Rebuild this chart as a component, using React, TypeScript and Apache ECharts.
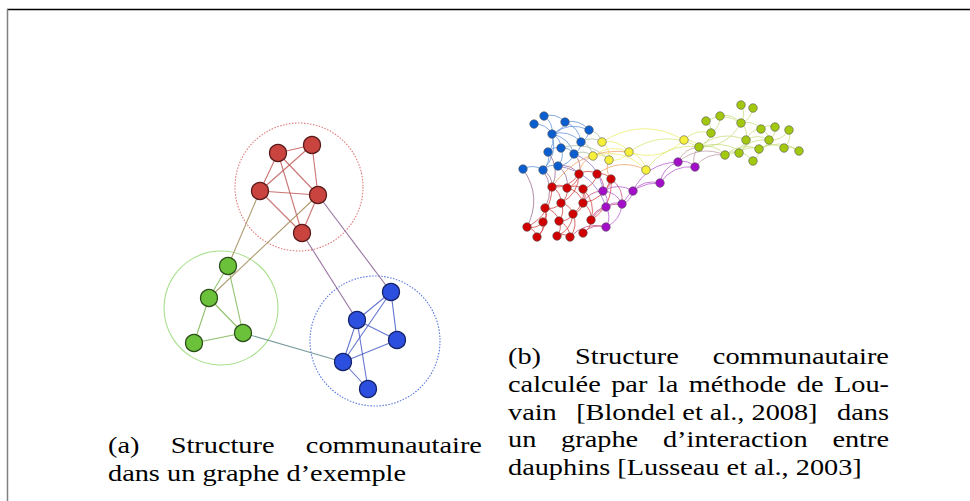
import React, { useEffect, useRef } from 'react';
import * as echarts from 'echarts';

const W = 970;
const H = 501;

// ---------- (a) example graph ----------
const aNodeNames = ['R1', 'R2', 'R3', 'R4', 'R5', 'G1', 'G2', 'G3', 'G4', 'B1', 'B2', 'B3', 'B4', 'B5'];
const aNodeX = [278, 312, 260, 318, 302, 228, 209, 243, 194, 391, 357, 397, 343, 368];
const aNodeY = [153, 145, 191, 195, 233, 266, 298, 333, 343, 292, 320, 340, 362, 389];
const aNodeGroup = [0, 0, 0, 0, 0, 1, 1, 1, 1, 2, 2, 2, 2, 2];
const aLinks: [string, string][] = [
  ['R1', 'R2'], ['R1', 'R3'], ['R1', 'R4'], ['R1', 'R5'], ['R2', 'R3'], ['R2', 'R4'],
  ['R3', 'R4'], ['R3', 'R5'], ['R4', 'R5'],
  ['G1', 'G2'], ['G1', 'G3'], ['G2', 'G3'], ['G2', 'G4'], ['G3', 'G4'],
  ['B1', 'B2'], ['B1', 'B3'], ['B1', 'B4'], ['B2', 'B3'], ['B2', 'B4'], ['B2', 'B5'],
  ['B3', 'B4'], ['B4', 'B5'],
  ['R3', 'G1'], ['R4', 'G2'], ['R5', 'B2'], ['R4', 'B1'], ['G3', 'B4'],
];
const aCircleX = [299, 221, 375];
const aCircleY = [187, 308, 341];
const aCircleR = [64, 57, 65];

// ---------- (b) dolphin network ----------
const bNodeNames = [
  'b0', 'b1', 'b2', 'b3', 'b4', 'b5', 'b6', 'b7', 'b8', 'b9', 'b10', 'b11',
  'y0', 'y1', 'y2', 'y3', 'y4', 'y5',
  'r0', 'r1', 'r2', 'r3', 'r4', 'r5', 'r6', 'r7', 'r8', 'r9', 'r10', 'r11', 'r12', 'r13', 'r14', 'r15', 'r16', 'r17',
  'p0', 'p1', 'p2', 'p3', 'p4', 'p5', 'p6', 'p7',
  'g0', 'g1', 'g2', 'g3', 'g4', 'g5', 'g6', 'g7', 'g8', 'g9', 'g10', 'g11', 'g12', 'g13', 'g14', 'g15', 'g16', 'g17',
];
const bNodeX = [
  544, 534, 565, 552, 589, 581, 548, 561, 574, 523, 543, 558,
  602, 629, 593, 609, 646, 684,
  579, 597, 611, 552, 567, 583, 561, 583, 545, 573, 543, 559, 591, 527, 537, 557, 570, 583,
  603, 633, 606, 622, 660, 678, 695, 606,
  741, 753, 706, 720, 741, 711, 699, 725, 739, 746, 761, 775, 789, 769, 759, 784, 799, 753,
];
const bNodeY = [
  116, 124, 122, 134, 130, 142, 152, 148, 154, 169, 170, 166,
  142, 152, 156, 160, 170, 140,
  174, 174, 179, 187, 188, 189, 203, 203, 208, 214, 222, 221, 220, 227, 237, 236, 237, 233,
  191, 191, 207, 204, 183, 162, 167, 227,
  105, 108, 121, 116, 123, 133, 147, 155, 153, 140, 129, 127, 130, 140, 149, 148, 151, 161,
];
const bNodeGroup = [
  0, 0, 0, 0, 0, 0, 0, 0, 0, 0, 0, 0,
  1, 1, 1, 1, 1, 1,
  2, 2, 2, 2, 2, 2, 2, 2, 2, 2, 2, 2, 2, 2, 2, 2, 2, 2,
  3, 3, 3, 3, 3, 3, 3, 3,
  4, 4, 4, 4, 4, 4, 4, 4, 4, 4, 4, 4, 4, 4, 4, 4, 4, 4,
];
const bLinks: [string, string][] = [
  ['b0', 'b3'], ['b1', 'b3'], ['b2', 'b3'], ['b3', 'b4'], ['b3', 'b5'], ['b3', 'b6'], ['b3', 'b7'], ['b3', 'b8'],
  ['b2', 'b5'], ['b4', 'b5'], ['b5', 'b8'], ['b6', 'b7'], ['b7', 'b8'], ['b6', 'b10'], ['b7', 'b11'], ['b9', 'b10'],
  ['b10', 'b11'], ['b8', 'b11'], ['b3', 'b10'], ['b2', 'b4'], ['b0', 'b2'],
  ['b5', 'y0'], ['b4', 'y0'], ['b8', 'y2'], ['b5', 'y2'], ['b7', 'y3'],
  ['b10', 'r8'], ['b9', 'r13'], ['b11', 'r0'], ['b8', 'r0'], ['b11', 'r4'], ['b10', 'r3'], ['b6', 'r3'],
  ['b8', 'p0'], ['b11', 'p2'],
  ['y0', 'y1'], ['y0', 'y3'], ['y2', 'y3'], ['y1', 'y4'], ['y1', 'y3'], ['y2', 'y1'], ['y5', 'y1'], ['y0', 'y5'], ['y2', 'y4'],
  ['y5', 'g6'], ['y4', 'g6'], ['y1', 'g6'], ['y5', 'g5'],
  ['r0', 'r1'], ['r0', 'r4'], ['r1', 'r2'], ['r1', 'r5'], ['r3', 'r4'], ['r4', 'r5'], ['r3', 'r6'], ['r4', 'r6'],
  ['r5', 'r7'], ['r4', 'r7'], ['r6', 'r8'], ['r6', 'r9'], ['r7', 'r9'], ['r8', 'r10'], ['r9', 'r11'], ['r10', 'r13'],
  ['r10', 'r14'], ['r11', 'r15'], ['r11', 'r16'], ['r12', 'r17'], ['r9', 'r16'], ['r7', 'r12'], ['r8', 'r11'],
  ['r3', 'r13'], ['r6', 'r11'], ['r5', 'r12'], ['r13', 'r14'], ['r15', 'r16'], ['r2', 'r12'], ['r0', 'r3'],
  ['r2', 'r7'], ['r8', 'r14'], ['r9', 'r15'], ['r5', 'r9'], ['r0', 'r6'],
  ['r2', 'y3'], ['r0', 'y2'], ['r1', 'y4'], ['r3', 'y1'],
  ['r2', 'p0'], ['r1', 'p0'], ['r12', 'p2'], ['r17', 'p7'], ['r7', 'p0'], ['r2', 'p3'], ['r16', 'p7'], ['r12', 'p3'],
  ['p0', 'p2'], ['p0', 'p1'], ['p1', 'p3'], ['p2', 'p3'], ['p1', 'p4'], ['p3', 'p4'], ['p4', 'p5'], ['p5', 'p6'],
  ['p4', 'p6'], ['p2', 'p7'], ['p3', 'p7'], ['p0', 'p3'], ['p1', 'p5'],
  ['p6', 'g7'], ['p5', 'g6'], ['p6', 'g6'], ['p5', 'g7'],
  ['g0', 'g4'], ['g1', 'g4'], ['g2', 'g5'], ['g3', 'g5'], ['g5', 'g6'], ['g4', 'g6'], ['g4', 'g9'], ['g4', 'g10'],
  ['g9', 'g7'], ['g9', 'g8'], ['g9', 'g13'], ['g9', 'g10'], ['g10', 'g11'], ['g10', 'g13'], ['g12', 'g13'],
  ['g13', 'g14'], ['g14', 'g17'], ['g14', 'g15'], ['g15', 'g16'], ['g8', 'g14'], ['g7', 'g8'], ['g6', 'g7'],
  ['g8', 'g13'], ['g6', 'g9'], ['g3', 'g4'], ['g14', 'g16'], ['g7', 'g14'], ['g11', 'g13'], ['g6', 'g17'],
  ['g2', 'g4'], ['g12', 'g15'],
];

// ---------- captions ----------
const captionA: string[][] = [
  ['(a)', 'Structure', 'communautaire'],
  ['dans', 'un', 'graphe', 'd’exemple'],
];
const captionAJustify = [true, false];
const captionB: string[][] = [
  ['(b)', 'Structure', 'communautaire'],
  ['calculée', 'par', 'la', 'méthode', 'de', 'Lou-'],
  ['vain', '[Blondel et al., 2008]', 'dans'],
  ['un', 'graphe', 'd’interaction', 'entre'],
  ['dauphins', '[Lusseau et al., 2003]'],
];
const captionBJustify = [true, true, true, true, false];

// ---------- styles ----------
const aNodeColors = ['#c9443f', '#6bc23a', '#2d4fe0'];
const aNodeBorders = ['#5a1a1a', '#2d501a', '#15236a'];
const aEdgeColors = ['#c25a5a', '#7db552', '#4a5ec8'];
const aCircleColors = ['#e07878', '#a8e08c', '#5a78e0'];
const aCircleDash: (number[] | null)[] = [[1.5, 1.5], null, [1.5, 1.5]];

const bNodeColors = ['#0b5ed0', '#f7f03a', '#d10000', '#a30fc9', '#a2c80f'];
const bEdgeColors = ['#5b8fd8', '#ecec6a', '#d03a3a', '#b458cc', '#c6dc7a'];

function hex(c: string) {
  return [1, 3, 5].map((i) => parseInt(c.slice(i, i + 2), 16));
}
function mix(a: string, b: string) {
  const x = hex(a);
  const y = hex(b);
  return 'rgb(' + x.map((v, i) => Math.round((v + y[i]) / 2)).join(',') + ')';
}

const FONT_FAMILY = 'Liberation Serif';
const FONT_SIZE = 24;
const SCALE_X = 1.18;

export default function App() {
  const ref = useRef<HTMLDivElement>(null);
  useEffect(() => {
    if (!ref.current) return;
    const chart = echarts.init(ref.current, null, { renderer: 'svg' });

    const canvas = document.createElement('canvas');
    const ctx = canvas.getContext('2d')!;
    ctx.font = `${FONT_SIZE}px "${FONT_FAMILY}"`;
    const spaceW = ctx.measureText(' ').width * SCALE_X;

    const textEls: any[] = [];
    const layoutLines = (lines: string[][], justify: boolean[], x0: number, x1: number, baselines: number[]) => {
      lines.forEach((words, li) => {
        const widths = words.map((w) => ctx.measureText(w).width * SCALE_X);
        const total = widths.reduce((s, v) => s + v, 0);
        let gap = spaceW;
        if (justify[li] && words.length > 1) gap = (x1 - x0 - total) / (words.length - 1);
        let x = x0;
        words.forEach((w, wi) => {
          textEls.push({
            type: 'text',
            x,
            y: baselines[li] - FONT_SIZE * 0.3,
            scaleX: SCALE_X,
            silent: true,
            style: {
              text: w,
              fill: '#000',
              fontFamily: FONT_FAMILY,
              fontSize: FONT_SIZE,
              align: 'left',
              verticalAlign: 'middle',
            },
          });
          x += widths[wi] + gap;
        });
      });
    };
    layoutLines(captionA, captionAJustify, 108, 482, [452.5, 480]);
    layoutLines(captionB, captionBJustify, 508, 889, [363.5, 391, 419, 446.5, 474]);

    const aIndex: Record<string, number> = {};
    aNodeNames.forEach((n, i) => (aIndex[n] = i));
    const bIndex: Record<string, number> = {};
    bNodeNames.forEach((n, i) => (bIndex[n] = i));

    const aData = aNodeNames.map((n, i) => ({
      name: n,
      value: [aNodeX[i], aNodeY[i]],
      itemStyle: {
        color: aNodeColors[aNodeGroup[i]],
        borderColor: aNodeBorders[aNodeGroup[i]],
        borderWidth: 1.3,
      },
    }));
    const aLinkData = aLinks.map(([s, t]) => {
      const gs = aNodeGroup[aIndex[s]];
      const gt = aNodeGroup[aIndex[t]];
      const color = gs === gt ? aEdgeColors[gs] : mix(aEdgeColors[gs], aEdgeColors[gt]);
      return { source: s, target: t, lineStyle: { color, width: 1.1, opacity: 0.85 } };
    });

    const bData = bNodeNames.map((n, i) => ({
      name: n,
      value: [bNodeX[i], bNodeY[i]],
      itemStyle: {
        color: bNodeColors[bNodeGroup[i]],
        borderColor: '#555',
        borderWidth: 0.6,
      },
    }));
    const bLinkData = bLinks.map(([s, t]) => {
      const gs = bNodeGroup[bIndex[s]];
      const gt = bNodeGroup[bIndex[t]];
      let color = gs === gt ? bEdgeColors[gs] : mix(bEdgeColors[gs], bEdgeColors[gt]);
      if ((gs === 1 && gt === 2) || (gs === 2 && gt === 1)) color = '#f0a060';
      return { source: s, target: t, lineStyle: { color, width: 1, opacity: 0.75, curveness: 0.3 } };
    });

    chart.setOption({
      animation: false,
      backgroundColor: '#ffffff',
      grid: { left: 0, right: 0, top: 0, bottom: 0, show: false },
      xAxis: { type: 'value', min: 0, max: W, show: false },
      yAxis: { type: 'value', min: 0, max: H, inverse: true, show: false },
      tooltip: { show: false },
      series: [
        {
          type: 'custom',
          coordinateSystem: 'cartesian2d',
          silent: true,
          z: 1,
          encode: { x: 0, y: 1 },
          data: aCircleX.map((x, i) => [x, aCircleY[i], aCircleR[i]]),
          renderItem: (params: any, api: any) => {
            const c = api.coord([api.value(0), api.value(1)]);
            const r = Math.abs(api.size([api.value(2), api.value(2)])[0]);
            const i = params.dataIndex;
            return {
              type: 'circle',
              shape: { cx: c[0], cy: c[1], r },
              style: {
                fill: 'none',
                stroke: aCircleColors[i],
                lineWidth: 1.1,
                lineDash: aCircleDash[i] || undefined,
              },
            };
          },
        },
        {
          type: 'graph',
          coordinateSystem: 'cartesian2d',
          layout: 'none',
          z: 2,
          symbol: 'circle',
          symbolSize: 17,
          silent: true,
          label: { show: false },
          emphasis: { disabled: true },
          data: aData,
          links: aLinkData,
        },
        {
          type: 'graph',
          coordinateSystem: 'cartesian2d',
          layout: 'none',
          z: 2,
          symbol: 'circle',
          symbolSize: 8.5,
          silent: true,
          label: { show: false },
          emphasis: { disabled: true },
          data: bData,
          links: bLinkData,
        },
      ],
      graphic: [
        {
          type: 'line',
          silent: true,
          shape: { x1: 7, y1: 9.5, x2: W, y2: 9.5 },
          style: { stroke: '#000', lineWidth: 1.5 },
        },
        {
          type: 'line',
          silent: true,
          shape: { x1: 7.5, y1: 9, x2: 7.5, y2: H },
          style: { stroke: '#808080', lineWidth: 1.5 },
        },
        ...textEls,
      ],
    });
    return () => chart.dispose();
  }, []);
  return <div ref={ref} style={{ position: 'absolute', left: 0, top: 0, width: W, height: H }} />;
}
